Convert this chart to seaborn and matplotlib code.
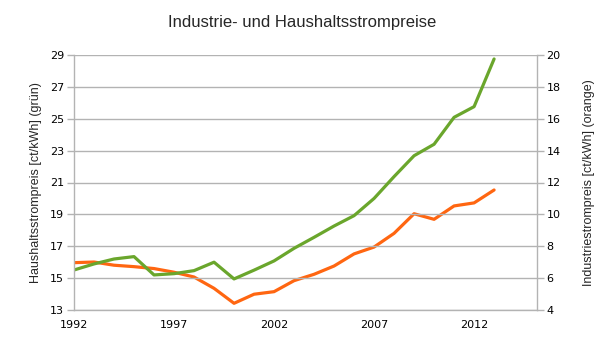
import matplotlib
matplotlib.use("Agg")
import matplotlib.pyplot as plt
import seaborn as sns
import pandas as pd

years = list(range(1992, 2014))
haushalt = [15.51, 15.89, 16.2, 16.35, 15.2, 15.28, 15.47, 16.0, 14.95, 15.5,
            16.08, 16.87, 17.56, 18.27, 18.92, 20.0, 21.37, 22.68, 23.4, 25.09, 25.76, 28.75]
industrie = [6.97, 7.01, 6.81, 6.72, 6.6, 6.37, 6.07, 5.36, 4.42, 4.99,
             5.15, 5.84, 6.24, 6.76, 7.52, 7.95, 8.81, 10.04, 9.69, 10.53, 10.72, 11.53]
xticks = [1992, 1997, 2002, 2007, 2012]
left_ticks = [13, 15, 17, 19, 21, 23, 25, 27, 29]
right_ticks = [4, 6, 8, 10, 12, 14, 16, 18, 20]

df = pd.DataFrame({"Jahr": years, "Haushalt": haushalt, "Industrie": industrie})

sns.set_style("white")
fig = plt.figure(figsize=(6.05, 3.4), dpi=100)
ax = fig.add_axes([74/605, 30/340, (536.7-74)/605, 255/340])
ax2 = ax.twinx()

green = "#6aa62c"
orange = "#ff6611"
grid = "#b3b3b3"

sns.lineplot(data=df, x="Jahr", y="Industrie", ax=ax2, color=orange, linewidth=2.3)
sns.lineplot(data=df, x="Jahr", y="Haushalt", ax=ax, color=green, linewidth=2.3)
ax.set_zorder(ax2.get_zorder() + 1)
ax.patch.set_visible(False)

ax.set_xlim(1992, 2015.13)
ax.set_ylim(13, 29)
ax2.set_ylim(4, 20)
ax.set_xticks(xticks)
ax.set_yticks(left_ticks)
ax2.set_yticks(right_ticks)

tickfont = dict(family="DejaVu Sans", size=8)
ax.set_xticklabels([str(t) for t in xticks], fontdict=tickfont)
ax.set_yticklabels([str(t) for t in left_ticks], fontdict=tickfont)
ax2.set_yticklabels([str(t) for t in right_ticks], fontdict=tickfont)

for a in (ax, ax2):
    for s in a.spines.values():
        s.set_color(grid)
        s.set_linewidth(1)
    a.spines["top"].set_visible(False)
    a.tick_params(axis="both", direction="out", length=5, width=1, color=grid,
                  labelcolor="black", pad=2)
ax.spines["right"].set_visible(False)
ax2.spines["left"].set_visible(False)
ax2.spines["bottom"].set_visible(False)

ax.yaxis.grid(True, color=grid, linewidth=1)
ax.set_axisbelow(True)

lab = dict(family="Liberation Sans", size=9)
ax.set_xlabel("")
ax.set_ylabel("Haushaltsstrompreis [ct/kWh] (grün)", fontdict=lab, labelpad=6)
ax2.set_ylabel("Industriestrompreis [ct/kWh] (orange)", fontdict=lab, labelpad=16)
fig.text(0.5, 1 - 22/340, "Industrie- und Haushaltsstrompreise", ha="center", va="center",
         family="Liberation Sans", fontsize=12)

fig.savefig("out.png", dpi=100)
